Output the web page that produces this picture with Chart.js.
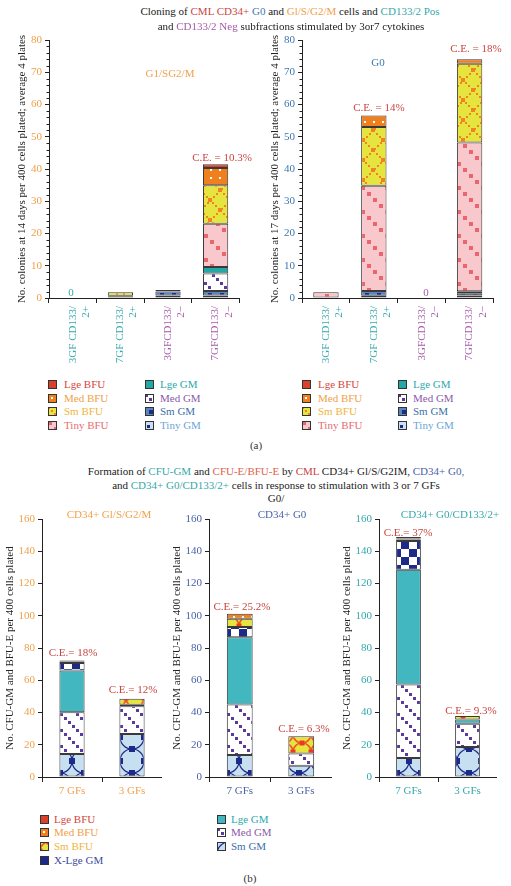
<!DOCTYPE html>
<html><head><meta charset="utf-8">
<script src="https://cdn.jsdelivr.net/npm/chart.js@4.4.0/dist/chart.umd.min.js"></script>
<style>
body{margin:0;background:#fff;width:511px;height:886px;position:relative;overflow:hidden;font-family:"Liberation Serif",serif;color:#222;}
.t{position:absolute;white-space:nowrap;font-size:11px;line-height:13px;transform:translate(-50%,-50%);}
.lg{position:absolute;white-space:nowrap;font-size:11px;line-height:13px;transform:translateY(-50%);}
canvas.sw{position:absolute;}
</style></head><body>
<script>
// ---------- DATA ----------
// Panel (a)
const catsA = [["3GF CD133/","2+"],["7GF CD133/","2+"],["3GFCD133/","2\u2212"],["7GFCD133/","2\u2212"]];
const seriesA = ["Tiny GM","Sm GM","Med GM","Lge GM","Tiny BFU","Sm BFU","Med BFU","Lge BFU"];
// G1/S/G2/M fraction (colonies at 14 days)
const g1TinyGM  = [0, 0,   0.8, 0.8];
const g1SmGM    = [0, 0.4, 1.2, 1.4];
const g1MedGM   = [0, 0,   0.5, 5.4];
const g1LgeGM   = [0, 0.3, 0,   2.0];
const g1TinyBFU = [0, 0,   0,   13.4];
const g1SmBFU   = [0, 1.1, 0,   12.0];
const g1MedBFU  = [0, 0,   0,   5.3];
const g1LgeBFU  = [0, 0,   0,   1.2];
// G0 fraction (colonies at 17 days)
const g0TinyGM  = [0,   0.7,  0, 0.8];
const g0SmGM    = [0,   1.5,  0, 0.7];
const g0MedGM   = [0,   0,    0, 0.6];
const g0LgeGM   = [0,   0,    0, 0];
const g0TinyBFU = [1.8, 32.6, 0, 46.1];
const g0SmBFU   = [0,   18.2, 0, 24.4];
const g0MedBFU  = [0,   3.6,  0, 1.4];
const g0LgeBFU  = [0,   0,    0, 0];
const ticksA = [0,10,20,30,40,50,60,70,80];

// Panel (b)
const catsB = ["7 GFs","3 GFs"];
const seriesB = ["Sm GM","Med GM","Lge GM","X-Lge GM","Sm BFU","Med BFU","Lge BFU"];
// CD34+ G1/S/G2/M
const cSmGM   = [14.3, 26.7];
const cMedGM  = [25.8, 17.1];
const cLgeGM  = [26.0, 1.0];
const cXLgeGM = [4.6, 0];
const cSmBFU  = [1.0, 3.8];
const cMedBFU = [0.3, 0];
const cLgeBFU = [0.3, 0];
// CD34+ G0
const dSmGM   = [13.6, 7.0];
const dMedGM  = [31.3, 7.5];
const dLgeGM  = [41.7, 0];
const dXLgeGM = [6.4, 0];
const dSmBFU  = [5.2, 10.7];
const dMedBFU = [3.1, 0];
const dLgeBFU = [0, 0];
// CD34+ G0/CD133/2+
const eSmGM   = [11.8, 18.6];
const eMedGM  = [45.6, 14.5];
const eLgeGM  = [71.1, 2.6];
const eXLgeGM = [17.8, 0];
const eSmBFU  = [1.0, 2.1];
const eMedBFU = [0.6, 0];
const eLgeBFU = [0.9, 0];
const ticksB = [0,20,40,60,80,100,120,140,160];

// ---------- PATTERNS ----------
function tile(w,h,draw){const c=document.createElement('canvas');c.width=w;c.height=h;const x=c.getContext('2d');draw(x,w,h);return x.createPattern(c,'repeat');}
const NAVY='#1d2a88';
const P = {
  lgeBFU: '#d9412b',
  medBFU: tile(9,8,(x,w,h)=>{x.fillStyle='#f07f1e';x.fillRect(0,0,w,h);x.fillStyle='#fff';x.fillRect(3,3,2,2);}),
  smBFU: tile(20,20,(x,w,h)=>{x.fillStyle='#e6e43e';x.fillRect(0,0,w,h);x.fillStyle='#f08424';
    for(let i=0;i<20;i+=3){x.fillRect(i,i,2,2);x.fillRect(19-i,i,2,2);}
    x.fillRect(8,8,4,4);[[0,0],[w,0],[0,h],[w,h]].forEach(p=>x.fillRect(p[0]-2,p[1]-2,4,4));}),
  smBFUb: tile(18,18,(x,w,h)=>{x.fillStyle='#e6e43e';x.fillRect(0,0,w,h);x.strokeStyle='#ec5a2a';x.lineWidth=1.6;
    x.beginPath();x.arc(9,9,9,0,Math.PI*2);x.stroke();x.fillStyle='#ec3a22';
    [[9,0],[0,9],[w,9],[9,h]].forEach(p=>x.fillRect(p[0]-2.5,p[1]-2.5,5,5));}),
  tinyBFU: tile(24,24,(x,w,h)=>{x.fillStyle='#f8c8cd';x.fillRect(0,0,w,h);x.fillStyle='#e8676c';[0,6,12,18].forEach(v=>x.fillRect(v,v,4,4));}),
  lgeGMa: '#25a7a6',
  lgeGMb: '#42b7c0',
  medGM: tile(16,16,(x,w,h)=>{x.fillStyle='#fff';x.fillRect(0,0,w,h);x.fillStyle='#5a3a9a';[0,4,8,12].forEach(v=>x.fillRect(v,v,3,3));}),
  smGMa: tile(12,10,(x,w,h)=>{x.fillStyle='#5a86bb';x.fillRect(0,0,w,h);x.fillStyle=NAVY;x.fillRect(4,3,4,4);}),
  tinyGMa: tile(12,10,(x,w,h)=>{x.fillStyle='#cbe0f1';x.fillRect(0,0,w,h);x.fillStyle=NAVY;x.fillRect(2,4,3,3);}),
  smGMb: tile(24,24,(x,w,h)=>{x.fillStyle='#c6e0f2';x.fillRect(0,0,w,h);x.strokeStyle=NAVY;x.lineWidth=1.2;
    x.beginPath();x.arc(12,12,12,0,Math.PI*2);x.stroke();x.fillStyle=NAVY;
    [[12,0],[0,12],[w,12],[12,h]].forEach(p=>x.fillRect(p[0]-3,p[1]-3,6,6));}),
  xlgeGM: tile(16,16,(x,w,h)=>{x.fillStyle='#fff';x.fillRect(0,0,w,h);x.fillStyle=NAVY;x.fillRect(0,0,8,8);x.fillRect(8,8,8,8);})
};

// ---------- CHART BUILDER ----------
const FONT = 'Liberation Serif';
const minorTicks = {
  id:'minorTicks',
  afterDraw(chart, args, opts){
    if(!opts || !opts.step) return;
    const y = chart.scales.y, ctx = chart.ctx;
    ctx.save(); ctx.strokeStyle='#222'; ctx.lineWidth=1;
    for(let v=y.min; v<=y.max+1e-6; v+=opts.step){
      if (Math.abs(v % opts.major) < 1e-6) continue;
      const p = Math.round(y.getPixelForValue(v))+0.5;
      ctx.beginPath(); ctx.moveTo(y.right-2.5,p); ctx.lineTo(y.right,p); ctx.stroke();
    }
    ctx.restore();
  }
};
function ds(label, values, fill){
  return {label, data: values.map(v=>v?v:null), backgroundColor: fill};
}
function makeChart(cfg){
  const c = document.createElement('canvas');
  c.style.cssText = `position:absolute;left:${cfg.left}px;top:${cfg.top}px;`;
  c.width = cfg.width; c.height = cfg.height;
  document.body.appendChild(c);
  new Chart(c, {
    type:'bar',
    data:{labels:cfg.labels, datasets:cfg.datasets},
    options:{
      responsive:false, animation:false,
      layout:{padding:{top:10,right:0,bottom:0,left:0}},
      plugins:{legend:{display:false}, tooltip:{enabled:false}, minorTicks:{step:cfg.minor, major:cfg.step}},
      datasets:{bar:{barPercentage:cfg.barPct, categoryPercentage:1, borderColor:'#3a3a3a', borderWidth:1, borderSkipped:false}},
      scales:{
        x:{stacked:true,
           grid:{display:true, drawOnChartArea:false, offset:true, tickLength:5, color:'#222'},
           border:{color:'#222'},
           ticks:{color:cfg.xColor, font:{family:FONT,size:11}, maxRotation:cfg.rot, minRotation:cfg.rot, padding:3, autoSkip:false},
           afterFit(s){s.height=cfg.xH;}},
        y:{stacked:true, min:0, max:cfg.max,
           grid:{drawOnChartArea:false, tickLength:4, color:'#222'},
           border:{color:'#222'},
           afterBuildTicks(s){s.ticks = cfg.ticks.map(v=>({value:v}));},
           ticks:{color:cfg.yColor, font:{family:FONT,size:11}, padding:3},
           title:{display:true, text:cfg.yTitle, color:'#222', font:{family:FONT,size:11}, padding:{top:cfg.titlePad,bottom:0}},
           afterFit(s){s.width=cfg.axisW;}}
      }
    },
    plugins:[minorTicks]
  });
}

const ORANGE='#f0a04a', RED='#c9453f', TEAL='#35a8aa', PURPLE='#a45aa8', BLUE='#3b78b2', NBLUE='#4a62a8';
const xColA = ctx => ctx.index < 2 ? TEAL : PURPLE;

makeChart({left:0, top:30, width:245, height:338, axisW:49, xH:70, titlePad:15.4, rot:90,
  labels:catsA, max:80, step:10, minor:2, ticks:ticksA, barPct:0.53, yColor:ORANGE, xColor:xColA,
  yTitle:'No. colonies at 14 days per 400 cells plated; average 4 plates',
  datasets:[ds(seriesA[0],g1TinyGM,P.tinyGMa), ds(seriesA[1],g1SmGM,P.smGMa), ds(seriesA[2],g1MedGM,P.medGM),
            ds(seriesA[3],g1LgeGM,P.lgeGMa), ds(seriesA[4],g1TinyBFU,P.tinyBFU), ds(seriesA[5],g1SmBFU,P.smBFU),
            ds(seriesA[6],g1MedBFU,P.medBFU), ds(seriesA[7],g1LgeBFU,P.lgeBFU)]});
makeChart({left:253, top:30, width:246, height:338, axisW:49, xH:70, titlePad:15.4, rot:90,
  labels:catsA, max:80, step:10, minor:2, ticks:ticksA, barPct:0.53, yColor:BLUE, xColor:xColA,
  yTitle:'No. colonies at 17 days per 400 cells plated; average 4 plates',
  datasets:[ds(seriesA[0],g0TinyGM,P.tinyGMa), ds(seriesA[1],g0SmGM,P.smGMa), ds(seriesA[2],g0MedGM,P.medGM),
            ds(seriesA[3],g0LgeGM,P.lgeGMa), ds(seriesA[4],g0TinyBFU,P.tinyBFU), ds(seriesA[5],g0SmBFU,P.smBFU),
            ds(seriesA[6],g0MedBFU,P.medBFU), ds(seriesA[7],g0LgeBFU,P.lgeBFU)]});

function bDatasets(a){
  return [ds(seriesB[0],a[0],P.smGMb), ds(seriesB[1],a[1],P.medGM), ds(seriesB[2],a[2],P.lgeGMb),
          ds(seriesB[3],a[3],P.xlgeGM), ds(seriesB[4],a[4],P.smBFUb), ds(seriesB[5],a[5],P.medBFU), ds(seriesB[6],a[6],P.lgeBFU)];
}
const yTitleB = 'No. CFU-GM and BFU-E per 400 cells plated';
makeChart({left:0, top:509, width:162, height:288, axisW:42, xH:20, titlePad:3.4, rot:0,
  labels:catsB, max:160, step:20, minor:0, ticks:ticksB, barPct:0.42, yColor:ORANGE, xColor:ORANGE, yTitle:yTitleB,
  datasets:bDatasets([cSmGM,cMedGM,cLgeGM,cXLgeGM,cSmBFU,cMedBFU,cLgeBFU])});
makeChart({left:167, top:509, width:165, height:288, axisW:42, xH:20, titlePad:3.4, rot:0,
  labels:catsB, max:160, step:20, minor:0, ticks:ticksB, barPct:0.42, yColor:NBLUE, xColor:NBLUE, yTitle:yTitleB,
  datasets:bDatasets([dSmGM,dMedGM,dLgeGM,dXLgeGM,dSmBFU,dMedBFU,dLgeBFU])});
makeChart({left:337, top:509, width:160, height:288, axisW:42, xH:20, titlePad:3.4, rot:0,
  labels:catsB, max:160, step:20, minor:0, ticks:ticksB, barPct:0.42, yColor:TEAL, xColor:TEAL, yTitle:yTitleB,
  datasets:bDatasets([eSmGM,eMedGM,eLgeGM,eXLgeGM,eSmBFU,eMedBFU,eLgeBFU])});

// ---------- TEXT ----------
function txt(x,y,html,color){const d=document.createElement('div');d.className='t';d.style.left=x+'px';d.style.top=y+'px';if(color)d.style.color=color;d.innerHTML=html;document.body.appendChild(d);}
const s=(c,t)=>`<span style="color:${c}">${t}</span>`;
txt(290,11,`Cloning of ${s(RED,'CML CD34+')} ${s(BLUE,'G0')} and ${s(ORANGE,'Gl/S/G2/M')} cells and ${s(TEAL,'CD133/2 Pos')}`);
txt(291,26,`and ${s(PURPLE,'CD133/2 Neg')} subfractions stimulated by 3or7 cytokines`);
txt(170,73,'G1/SG2/M',ORANGE);
txt(378,62,'G0',BLUE);
txt(71,292,'0',TEAL);
txt(426,292,'0',PURPLE);
txt(222,157,'C.E. = 10.3%',RED);
txt(379,107,'C.E. = 14%',RED);
txt(476,48,'C.E. = 18%',RED);
txt(256,445,'(a)','#333');

txt(276,471,`Formation of ${s(TEAL,'CFU-GM')} and ${s('#e0604a','CFU-E/BFU-E')} by ${s(RED,'CML')} CD34+ Gl/S/G2IM, ${s(NBLUE,'CD34+ G0,')}`);
txt(276,485,`and ${s(TEAL,'CD34+ G0/CD133/2+')} cells in response to stimulation with 3 or 7 GFs`);
txt(276,498,'G0/');
txt(109,514,'CD34+ Gl/S/G2/M',ORANGE);
txt(282,514,'CD34+ G0',NBLUE);
txt(450,514,'CD34+ G0/CD133/2+',TEAL);
txt(73,652,'C.E.= 18%',RED);
txt(133,689,'C.E.= 12%',RED);
txt(242,606,'C.E.= 25.2%',RED);
txt(304,728,'C.E.= 6.3%',RED);
txt(408,532,'C.E.= 37%',RED);
txt(471,710,'C.E.= 9.3%',RED);
txt(250,878,'(b)','#333');

// ---------- LEGENDS ----------
function legend(x,y,fill,label,color,tx){
  const c=document.createElement('canvas');c.className='sw';c.width=9;c.height=9;
  c.style.left=x+'px';c.style.top=(y-4.5)+'px';document.body.appendChild(c);
  const g=c.getContext('2d');g.fillStyle=fill;g.fillRect(0,0,9,9);g.strokeStyle='#333';g.lineWidth=1;g.strokeRect(0.5,0.5,8,8);
  const d=document.createElement('div');d.className='lg';d.style.left=tx+'px';d.style.top=y+'px';d.style.color=color;d.textContent=label;document.body.appendChild(d);
}
const legA = [
  [P.lgeBFU,'Lge BFU','#d6453b', P.lgeGMa,'Lge GM','#2aa9ab'],
  [P.medBFU,'Med BFU',ORANGE, P.medGM,'Med GM','#8a5aa8'],
  [P.smBFU,'Sm BFU','#f0b43c', P.smGMa,'Sm GM','#3b6fa8'],
  [P.tinyBFU,'Tiny BFU','#e86b72', P.tinyGMa,'Tiny GM','#6aa5d8']
];
const rowsA=[384,398,411,425];
legA.forEach((r,i)=>{
  legend(48,rowsA[i],r[0],r[1],r[2],64); legend(145,rowsA[i],r[3],r[4],r[5],160);
  legend(302,rowsA[i],r[0],r[1],r[2],318); legend(398,rowsA[i],r[3],r[4],r[5],413);
});
const rowsB=[819,832,846,860];
legend(40,rowsB[0],P.lgeBFU,'Lge BFU','#d6453b',54);
legend(40,rowsB[1],P.medBFU,'Med BFU',ORANGE,54);
legend(40,rowsB[2],P.smBFUb,'Sm BFU','#f0b43c',54);
legend(40,rowsB[3],P.xlgeGM,'X-Lge GM','#3a4a9a',54);
legend(217,rowsB[0],P.lgeGMb,'Lge GM','#2aa9ab',231);
legend(217,rowsB[1],P.medGM,'Med GM','#8a5aa8',231);
legend(217,rowsB[2],P.smGMb,'Sm GM','#3b6fa8',231);
</script>
</body></html>
